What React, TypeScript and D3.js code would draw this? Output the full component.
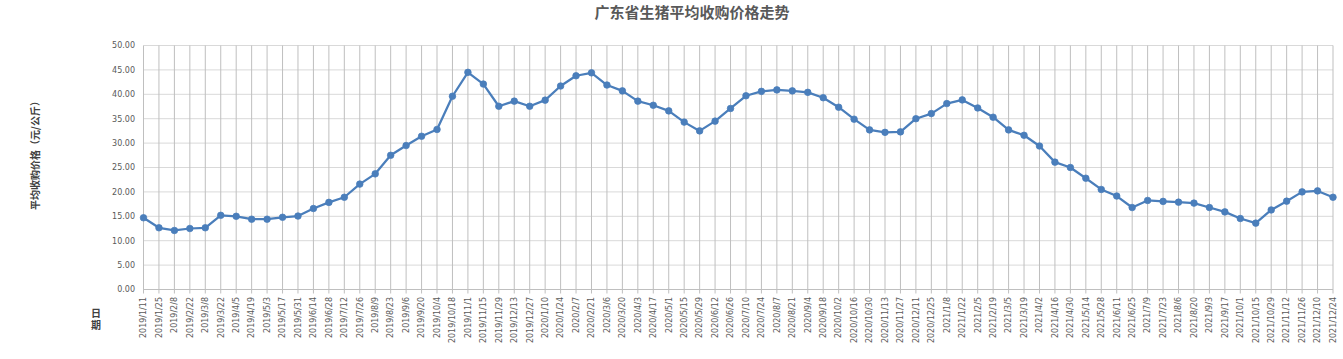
import React from "react";
import * as d3 from "d3";

const dates: string[] = [
  "2019/1/11","2019/1/25","2019/2/8","2019/2/22","2019/3/8","2019/3/22","2019/4/5","2019/4/19","2019/5/3","2019/5/17",
  "2019/5/31","2019/6/14","2019/6/28","2019/7/12","2019/7/26","2019/8/9","2019/8/23","2019/9/6","2019/9/20","2019/10/4",
  "2019/10/18","2019/11/1","2019/11/15","2019/11/29","2019/12/13","2019/12/27","2020/1/10","2020/1/24","2020/2/7","2020/2/21",
  "2020/3/6","2020/3/20","2020/4/3","2020/4/17","2020/5/1","2020/5/15","2020/5/29","2020/6/12","2020/6/26","2020/7/10",
  "2020/7/24","2020/8/7","2020/8/21","2020/9/4","2020/9/18","2020/10/2","2020/10/16","2020/10/30","2020/11/13","2020/11/27",
  "2020/12/11","2020/12/25","2021/1/8","2021/1/22","2021/2/5","2021/2/19","2021/3/5","2021/3/19","2021/4/2","2021/4/16",
  "2021/4/30","2021/5/14","2021/5/28","2021/6/11","2021/6/25","2021/7/9","2021/7/23","2021/8/6","2021/8/20","2021/9/3",
  "2021/9/17","2021/10/1","2021/10/15","2021/10/29","2021/11/12","2021/11/26","2021/12/10","2021/12/24",
];

const prices: number[] = [
  14.7, 12.65, 12.1, 12.5, 12.65, 15.2, 15.0, 14.4, 14.4, 14.8,
  15.05, 16.6, 17.85, 18.9, 21.6, 23.7, 27.5, 29.5, 31.4, 32.8,
  39.6, 44.5, 42.1, 37.55, 38.6, 37.55, 38.8, 41.7, 43.8, 44.4,
  41.9, 40.7, 38.6, 37.75, 36.6, 34.3, 32.5, 34.5, 37.1, 39.7,
  40.6, 40.9, 40.7, 40.4, 39.3, 37.35, 34.9, 32.7, 32.2, 32.3,
  35.0, 36.05, 38.1, 38.85, 37.2, 35.3, 32.7, 31.6, 29.4, 26.1,
  25.0, 22.8, 20.5, 19.15, 16.8, 18.25, 18.05, 17.9, 17.7, 16.8,
  15.9, 14.55, 13.6, 16.3, 18.1, 20.0, 20.2, 18.9,
];

const yTicks: number[] = [0, 5, 10, 15, 20, 25, 30, 35, 40, 45, 50];

const title = "广东省生猪平均收购价格走势";
const yTitle = "平均收购价格（元/公斤）";
const xTitle = "日期";

export default function App() {
  const W = 1343, H = 359;
  const left = 143.5, right = 1333, top = 45.5, bottom = 289.5;

  const x = d3.scalePoint<string>().domain(dates).range([left, right]);
  const y = d3.scaleLinear().domain([0, 50]).range([bottom, top]);

  const line = d3.line<number>()
    .x((_, i) => x(dates[i]) as number)
    .y((d) => y(d));

  const color = "#4A7EBB";
  const font = "'DejaVu Sans', Verdana, sans-serif";
  const cjk = "'Noto Sans CJK SC', sans-serif";

  return (
    <div style={{ position: "absolute", left: 0, top: 0 }}>
      <svg width={W} height={H} style={{ display: "block", background: "#fff" }}>
        <text x={692} y={18} textAnchor="middle" fontFamily={cjk} fontSize={15} fontWeight={700} fill="#595959">
          {title}
        </text>

        {/* horizontal gridlines */}
        {yTicks.map((t) => (
          <line key={"h" + t} x1={left} x2={right} y1={y(t)} y2={y(t)} stroke="#d9d9d9" strokeWidth={1} />
        ))}
        {/* vertical gridlines */}
        {dates.map((d) => (
          <line key={"v" + d} x1={x(d)} x2={x(d)} y1={top} y2={bottom + 4} stroke="#bfbfbf" strokeWidth={1} />
        ))}
        <line x1={left} x2={right} y1={bottom} y2={bottom} stroke="#bfbfbf" strokeWidth={1} />

        {/* y tick labels */}
        {yTicks.map((t) => (
          <text key={"yl" + t} x={135} y={y(t)} dy="0.35em" textAnchor="end" fontFamily={font} fontSize={8} fill="#595959">
            {t.toFixed(2)}
          </text>
        ))}

        {/* x tick labels */}
        {dates.map((d) => (
          <text
            key={"xl" + d}
            transform={`translate(${x(d)},${297}) rotate(-90)`}
            textAnchor="end"
            dy="0.35em"
            fontFamily={font}
            fontSize={8}
            fill="#595959"
          >
            {d}
          </text>
        ))}

        {/* axis titles */}
        <text
          transform={`translate(35,153) rotate(-90)`}
          textAnchor="middle"
          dy="0.35em"
          fontFamily={cjk}
          fontSize={10}
          fontWeight={700}
          fill="#404040"
        >
          {yTitle}
        </text>
        <text
          x={96}
          y={308}
          style={{ writingMode: "vertical-rl" }}
          letterSpacing={2}
          fontFamily={cjk}
          fontSize={10}
          fontWeight={700}
          fill="#404040"
        >
          {xTitle}
        </text>

        {/* series */}
        <path d={line(prices) || ""} fill="none" stroke={color} strokeWidth={2.25} strokeLinejoin="round" />
        {prices.map((p, i) => (
          <circle key={"c" + i} cx={x(dates[i])} cy={y(p)} r={3.3} fill={color} stroke={color} strokeWidth={0.75} />
        ))}
      </svg>
    </div>
  );
}
